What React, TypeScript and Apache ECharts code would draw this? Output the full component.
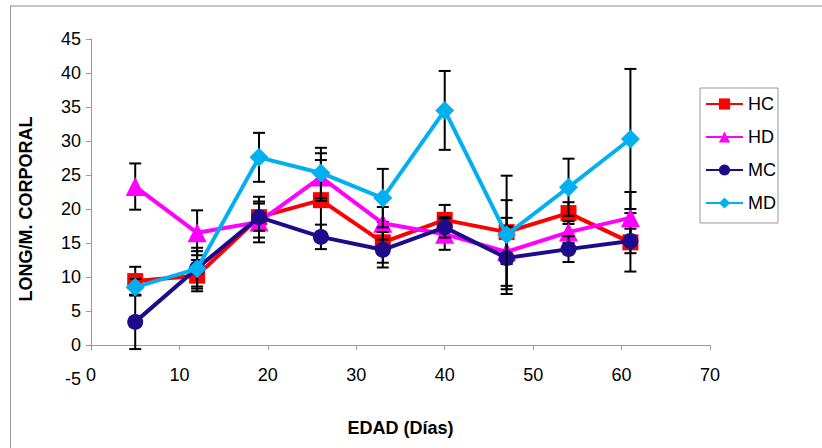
import React, { useEffect, useRef } from "react";
import * as echarts from "echarts";

const xValues = [5, 12, 19, 26, 33, 40, 47, 54, 61];
const hc = [9.4, 10.2, 18.8, 21.3, 15.1, 18.4, 16.6, 19.4, 15.1];
const hcErr = [2.1, 2.3, 3.0, 5.9, 3.0, 2.2, 4.7, 1.6, 4.3];
const hd = [23.3, 16.5, 18.1, 24.7, 17.9, 16.3, 13.7, 16.6, 18.7];
const hdErr = [3.4, 3.3, 3.0, 3.5, 2.4, 2.3, 5.0, 1.6, 3.8];
const mc = [3.4, 11.3, 18.8, 15.9, 14.0, 17.3, 12.8, 14.1, 15.3];
const mcErr = [4.0, 3.0, 2.0, 1.8, 2.6, 1.5, 4.6, 1.9, 1.8];
const md = [8.5, 11.2, 27.6, 25.3, 21.6, 34.5, 16.2, 23.2, 30.3];
const mdErr = [1.2, 2.6, 3.6, 3.7, 4.3, 5.8, 8.7, 4.2, 10.3];

const seriesNames = ["HC", "HD", "MC", "MD"];
const seriesColors = ["#FF0000", "#FF00FF", "#1E0B8C", "#00B0F0"];
const seriesSymbols = ["rect", "triangle", "circle", "diamond"];
const seriesSizes = [16, 19, 16, 19];
const seriesValues = [hc, hd, mc, md];
const seriesErrors = [hcErr, hdErr, mcErr, mdErr];

const font = "'Liberation Sans', Arial, sans-serif";

export default function App() {
  const ref = useRef<HTMLDivElement>(null);
  useEffect(() => {
    if (!ref.current) return;
    const chart = echarts.init(ref.current, undefined, { renderer: "svg" });
    const series: any[] = [];
    seriesNames.forEach((name, i) => {
      series.push({
        type: "custom",
        name: name + "-err",
        xAxisIndex: 0,
        yAxisIndex: 0,
        z: 3 + i * 2,
        data: xValues.map((x, k) => [x, seriesValues[i][k] - seriesErrors[i][k], seriesValues[i][k] + seriesErrors[i][k]]),
        renderItem: (params: any, api: any) => {
          const x = api.value(0);
          const lo = api.coord([x, api.value(1)]);
          const hi = api.coord([x, api.value(2)]);
          const w = 6;
          const st = { stroke: "#000", lineWidth: 2 };
          return {
            type: "group",
            children: [
              { type: "line", shape: { x1: lo[0], y1: lo[1], x2: hi[0], y2: hi[1] }, style: st },
              { type: "line", shape: { x1: lo[0] - w, y1: lo[1], x2: lo[0] + w, y2: lo[1] }, style: st },
              { type: "line", shape: { x1: hi[0] - w, y1: hi[1], x2: hi[0] + w, y2: hi[1] }, style: st },
            ],
          };
        },
        silent: true,
      });
      series.push({
        type: "line",
        name,
        xAxisIndex: 0,
        yAxisIndex: 0,
        z: 4 + i * 2,
        data: xValues.map((x, k) => [x, seriesValues[i][k]]),
        symbol: seriesSymbols[i],
        symbolSize: seriesSizes[i],
        color: seriesColors[i],
        lineStyle: { width: 4, color: seriesColors[i] },
        itemStyle: { color: seriesColors[i] },
      });
    });

    chart.setOption({
      animation: false,
      backgroundColor: "#fff",
      grid: [
        { left: 91, right: 112, top: 39, bottom: 69, outerBoundsMode: "none", containLabel: false },
        { left: 91, right: 112, top: 39, bottom: 103, outerBoundsMode: "none", containLabel: false },
      ],
      xAxis: [
        {
          type: "value",
          gridIndex: 0,
          position: "bottom",
          offset: -13,
          min: 0,
          max: 70,
          interval: 10,
          axisLine: { show: false, onZero: false },
          axisTick: { show: false },
          axisLabel: { margin: 0, fontSize: 18, color: "#000", fontFamily: font },
          splitLine: { show: false },
          name: "EDAD (Días)",
          nameLocation: "middle",
          nameGap: 53,
          nameTextStyle: { fontSize: 18, fontWeight: "bold", color: "#000", fontFamily: font },
        },
        {
          type: "value",
          gridIndex: 1,
          position: "bottom",
          min: 0,
          max: 70,
          interval: 10,
          axisLine: { show: true, onZero: false, lineStyle: { color: "#999", width: 1 } },
          axisTick: { show: true, length: 5, lineStyle: { color: "#999" } },
          axisLabel: { show: false },
          splitLine: { show: false },
        },
      ],
      yAxis: [
        {
          type: "value",
          gridIndex: 0,
          min: -5,
          max: 45,
          interval: 5,
          axisLine: { show: false, onZero: false },
          axisTick: { show: false },
          axisLabel: { margin: 10, fontSize: 18, color: "#000", fontFamily: font },
          splitLine: { show: false },
          name: "LONG/M. CORPORAL",
          nameLocation: "middle",
          nameGap: 56,
          nameTextStyle: { fontSize: 18, fontWeight: "bold", color: "#000", fontFamily: font },
        },
        {
          type: "value",
          gridIndex: 1,
          min: 0,
          max: 45,
          interval: 5,
          axisLine: { show: true, onZero: false, lineStyle: { color: "#999", width: 1 } },
          axisTick: { show: true, length: 5, lineStyle: { color: "#999" } },
          axisLabel: { show: false },
          splitLine: { show: false },
        },
      ],
      legend: {
        data: seriesNames,
        orient: "vertical",
        left: 700,
        top: 88,
        itemWidth: 37,
        itemHeight: 14,
        itemGap: 15,
        padding: [7, 2, 11, 5],
        borderColor: "#999",
        borderWidth: 1,
        textStyle: { fontSize: 18, color: "#000", fontFamily: font },
      },
      graphic: [
        { type: "line", shape: { x1: 10, y1: 6, x2: 822, y2: 6 }, style: { stroke: "#c4c4c4", lineWidth: 2 } },
        { type: "line", shape: { x1: 10.5, y1: 6, x2: 10.5, y2: 448 }, style: { stroke: "#999", lineWidth: 1 } },
      ],
      series,
    });
    return () => chart.dispose();
  }, []);
  return (
    <div
      ref={ref}
      style={{ position: "fixed", left: 0, top: 0, width: 822, height: 448, background: "#fff" }}
    />
  );
}
